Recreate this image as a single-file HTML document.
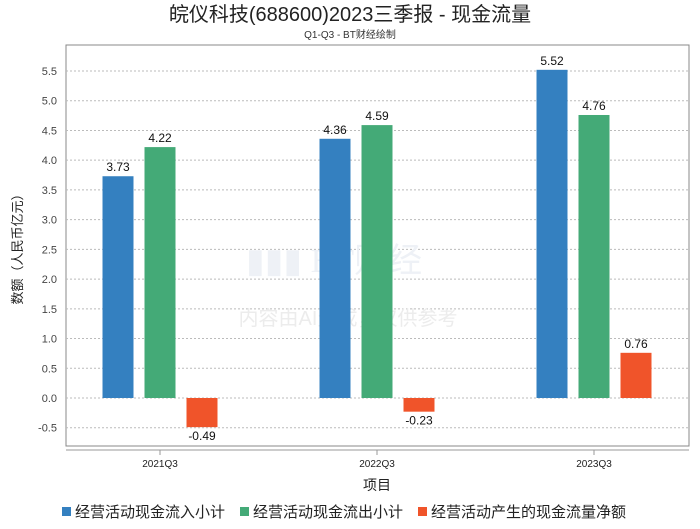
<!DOCTYPE html>
<html><head><meta charset="utf-8">
<style>
body{margin:0;background:#fff;font-family:"Liberation Sans","Noto Sans CJK SC",sans-serif;}
</style></head>
<body>
<svg width="700" height="524" xmlns="http://www.w3.org/2000/svg" style="font-family:'Liberation Sans','Noto Sans CJK SC',sans-serif">
<text x="350" y="21" text-anchor="middle" font-size="20" fill="#222">皖仪科技(688600)2023三季报 - 现金流量</text>
<text x="350" y="38" text-anchor="middle" font-size="10" fill="#333">Q1-Q3 - BT财经绘制</text>
<rect x="66" y="45" width="623" height="401" fill="none" stroke="#888"/>
<g id="grid"></g>
<text x="246" y="272" font-size="34" fill="#eef1f6" font-family="Liberation Serif">▮▮▮ BT财经</text>
<text x="348" y="325" text-anchor="middle" font-size="20" fill="#ececec">内容由AI生成，仅供参考</text>
<g id="bars"></g>
<g id="xaxis"></g>
<text x="22" y="246" transform="rotate(-90 22 246)" text-anchor="middle" font-size="13" fill="#222">数额（人民币亿元）</text>
<text x="377" y="490" text-anchor="middle" font-size="14" fill="#222">项目</text>
<g font-size="15" fill="#222">
<rect x="62" y="507" width="9" height="9" fill="#3480c0"/>
<text x="75" y="517">经营活动现金流入小计</text>
<rect x="240" y="507" width="9" height="9" fill="#44aa77"/>
<text x="253" y="517">经营活动现金流出小计</text>
<rect x="418" y="507" width="9" height="9" fill="#f0542a"/>
<text x="431" y="517">经营活动产生的现金流量净额</text>
</g>
</svg>
<script>
const categories=["2021Q3","2022Q3","2023Q3"];
const inflow=[3.73,4.36,5.52];
const outflow=[4.22,4.59,4.76];
const net=[-0.49,-0.23,0.76];
const yTicks=[-0.5,0,0.5,1,1.5,2,2.5,3,3.5,4,4.5,5,5.5];
const NS="http://www.w3.org/2000/svg";
const y=v=>398-v*(327/5.5);
const xc=i=>160+i*217;
function mk(tag,attrs,parent,txt){const e=document.createElementNS(NS,tag);for(const k in attrs)e.setAttribute(k,attrs[k]);if(txt!==undefined)e.textContent=txt;document.getElementById(parent).appendChild(e);return e;}
yTicks.forEach(t=>{
 const l=mk('line',{x1:66,x2:689,y1:y(t),y2:y(t),stroke:'#bbb','stroke-dasharray':'2,2'},'grid');
 
 
 const tx=mk('text',{x:57,y:y(t)+4,'text-anchor':'end','font-size':11,fill:'#444'},'grid',t.toFixed(1));
 
 
});
const series=[[inflow,'#3480c0',-42,'inflow'],[outflow,'#44aa77',0,'outflow'],[net,'#f0542a',42,'net']];
series.forEach(([vals,col,off,nm])=>{
 vals.forEach((v,i)=>{
  const cx=xc(i)+off;
  const top=Math.min(y(v),y(0)),h=Math.abs(y(v)-y(0));
  const r=mk('rect',{x:cx-15.5,y:top,width:31,height:h,fill:col},'bars');
  
  
  const ly=v>=0?y(v)-5:y(v)+13;
  const t=mk('text',{x:cx,y:ly,'text-anchor':'middle','font-size':12,fill:'#111'},'bars',v.toFixed(2));
  
  
 });
});
const ax=mk('line',{x1:66,x2:689,y1:450,y2:450,stroke:'#999'},'xaxis');


categories.forEach((c,i)=>{
 const tk=mk('line',{x1:xc(i),x2:xc(i),y1:450,y2:455,stroke:'#999'},'xaxis');
 
 
 const t=mk('text',{x:xc(i),y:467,'text-anchor':'middle','font-size':10,fill:'#222'},'xaxis',c);
 
 
});
</script>
</body></html>
